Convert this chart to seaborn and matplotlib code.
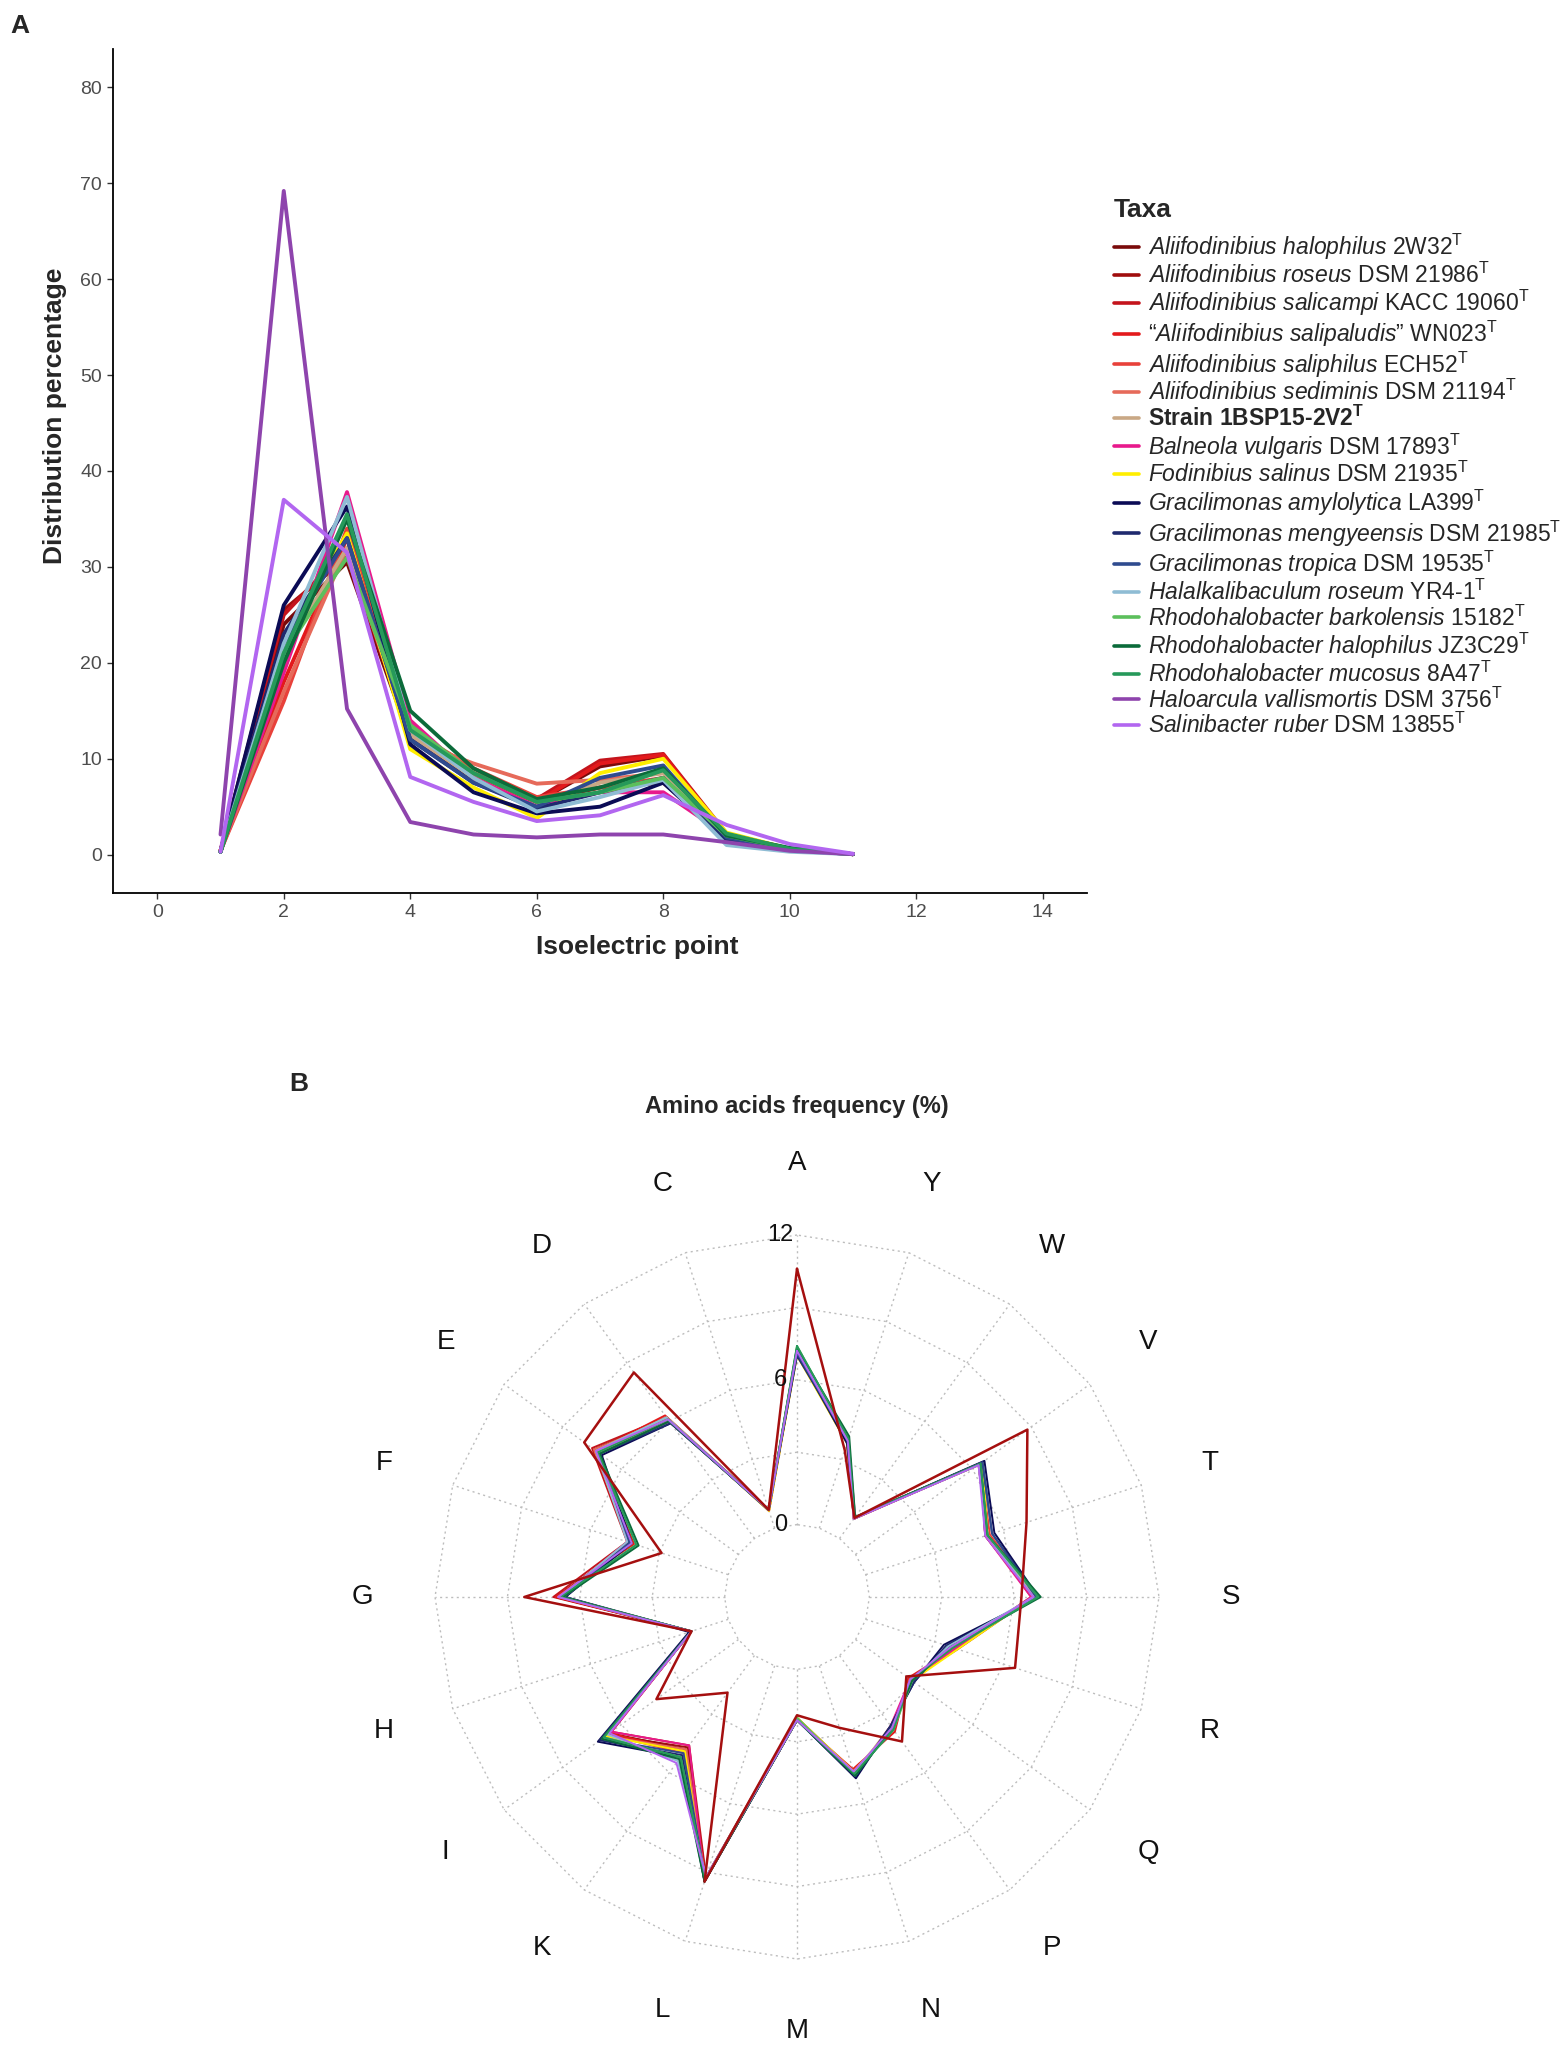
import numpy as np
import pandas as pd
import matplotlib
matplotlib.use("Agg")
import matplotlib.pyplot as plt
import seaborn as sns
from matplotlib.lines import Line2D

# ---------------- data ----------------
taxa = [
    "Aliifodinibius halophilus 2W32", "Aliifodinibius roseus DSM 21986",
    "Aliifodinibius salicampi KACC 19060", "Aliifodinibius salipaludis WN023",
    "Aliifodinibius saliphilus ECH52", "Aliifodinibius sediminis DSM 21194",
    "Strain 1BSP15-2V2", "Balneola vulgaris DSM 17893",
    "Fodinibius salinus DSM 21935", "Gracilimonas amylolytica LA399",
    "Gracilimonas mengyeensis DSM 21985", "Gracilimonas tropica DSM 19535",
    "Halalkalibaculum roseum YR4-1", "Rhodohalobacter barkolensis 15182",
    "Rhodohalobacter halophilus JZ3C29", "Rhodohalobacter mucosus 8A47",
    "Haloarcula vallismortis DSM 3756", "Salinibacter ruber DSM 13855",
]
legend_labels = [
    r"$\mathit{Aliifodinibius\ halophilus}$ 2W32$^{\mathrm{T}}$",
    r"$\mathit{Aliifodinibius\ roseus}$ DSM 21986$^{\mathrm{T}}$",
    r"$\mathit{Aliifodinibius\ salicampi}$ KACC 19060$^{\mathrm{T}}$",
    r"“$\mathit{Aliifodinibius\ salipaludis}$” WN023$^{\mathrm{T}}$",
    r"$\mathit{Aliifodinibius\ saliphilus}$ ECH52$^{\mathrm{T}}$",
    r"$\mathit{Aliifodinibius\ sediminis}$ DSM 21194$^{\mathrm{T}}$",
    r"Strain 1BSP15-2V2$^{\mathbf{T}}$",
    r"$\mathit{Balneola\ vulgaris}$ DSM 17893$^{\mathrm{T}}$",
    r"$\mathit{Fodinibius\ salinus}$ DSM 21935$^{\mathrm{T}}$",
    r"$\mathit{Gracilimonas\ amylolytica}$ LA399$^{\mathrm{T}}$",
    r"$\mathit{Gracilimonas\ mengyeensis}$ DSM 21985$^{\mathrm{T}}$",
    r"$\mathit{Gracilimonas\ tropica}$ DSM 19535$^{\mathrm{T}}$",
    r"$\mathit{Halalkalibaculum\ roseum}$ YR4-1$^{\mathrm{T}}$",
    r"$\mathit{Rhodohalobacter\ barkolensis}$ 15182$^{\mathrm{T}}$",
    r"$\mathit{Rhodohalobacter\ halophilus}$ JZ3C29$^{\mathrm{T}}$",
    r"$\mathit{Rhodohalobacter\ mucosus}$ 8A47$^{\mathrm{T}}$",
    r"$\mathit{Haloarcula\ vallismortis}$ DSM 3756$^{\mathrm{T}}$",
    r"$\mathit{Salinibacter\ ruber}$ DSM 13855$^{\mathrm{T}}$",
]
colors = [
    "#7a0a0a", "#a00d0d", "#c4141c", "#e31a1c", "#e8413a", "#e66a5a",
    "#c9a885", "#e8198c", "#ffee00", "#0b0b55", "#1f2a6e", "#2f4b8f",
    "#8fbcd4", "#5cbf5c", "#0b6b3a", "#26995a", "#8e44ad", "#b266f0",
]

# panel A: isoelectric point distribution (%)
pi_bins = [1, 2, 3, 4, 5, 6, 7, 8, 9, 10, 11]
pi_halophilus = [0.4, 24.0, 30.5, 12.0, 8.0, 5.5, 9.2, 10.3, 2.0, 0.6, 0.05]
pi_roseus = [0.4, 25.5, 31.0, 12.5, 8.0, 5.5, 7.0, 7.5, 2.0, 0.6, 0.05]
pi_salicampi = [0.4, 25.0, 32.0, 12.0, 8.5, 5.8, 9.8, 10.5, 2.2, 0.6, 0.05]
pi_salipaludis = [0.4, 18.0, 33.0, 12.5, 8.5, 5.5, 9.5, 10.4, 2.0, 0.6, 0.05]
pi_saliphilus = [0.4, 16.0, 34.0, 13.0, 9.0, 6.0, 7.0, 8.0, 1.8, 0.5, 0.05]
pi_sediminis = [0.4, 17.0, 32.0, 12.0, 9.5, 7.4, 7.8, 8.5, 1.8, 0.5, 0.05]
pi_strain = [0.3, 21.0, 32.0, 12.5, 8.0, 5.0, 7.5, 8.5, 2.0, 0.6, 0.05]
pi_balneola = [0.3, 19.0, 37.8, 14.0, 8.0, 5.0, 6.5, 6.5, 2.0, 0.6, 0.05]
pi_fodinibius = [0.3, 22.0, 33.5, 11.0, 7.0, 3.8, 8.5, 10.0, 2.3, 0.6, 0.05]
pi_amylolytica = [0.3, 26.0, 36.3, 11.5, 6.5, 4.3, 5.0, 7.5, 1.5, 0.5, 0.05]
pi_mengyeensis = [0.3, 23.0, 33.0, 12.0, 7.5, 4.8, 6.5, 8.0, 1.5, 0.5, 0.05]
pi_tropica = [0.3, 22.0, 33.0, 12.0, 7.5, 5.0, 8.0, 9.3, 1.8, 0.5, 0.05]
pi_halalkali = [0.3, 22.0, 37.3, 13.0, 8.0, 4.5, 6.0, 7.8, 1.0, 0.3, 0.05]
pi_barkolensis = [0.3, 21.0, 31.0, 13.5, 8.5, 5.5, 6.5, 8.0, 2.0, 0.6, 0.05]
pi_rhalophilus = [0.3, 20.0, 35.0, 15.0, 9.0, 5.8, 7.0, 9.0, 2.0, 0.7, 0.05]
pi_mucosus = [0.3, 21.0, 35.5, 13.0, 8.5, 5.5, 6.5, 8.8, 2.2, 0.6, 0.05]
pi_haloarcula = [2.1, 69.2, 15.2, 3.4, 2.1, 1.8, 2.1, 2.1, 1.3, 0.4, 0.05]
pi_salinibacter = [0.3, 37.0, 31.5, 8.1, 5.5, 3.5, 4.1, 6.2, 3.1, 1.1, 0.1]

pi_values = [
    pi_halophilus, pi_roseus, pi_salicampi, pi_salipaludis, pi_saliphilus,
    pi_sediminis, pi_strain, pi_balneola, pi_fodinibius, pi_amylolytica,
    pi_mengyeensis, pi_tropica, pi_halalkali, pi_barkolensis, pi_rhalophilus,
    pi_mucosus, pi_haloarcula, pi_salinibacter,
]

# panel B: amino acid frequency (%)
amino_acids = ["A", "C", "D", "E", "F", "G", "H", "I", "K", "L",
               "M", "N", "P", "Q", "R", "S", "T", "V", "W", "Y"]
aa_halophilus = [7.3, 0.8, 6.2, 7.4, 4.2, 7.0, 1.6, 6.6, 4.8, 9.2, 2.1, 4.6, 3.8, 2.8, 3.9, 6.8, 5.2, 6.4, 1.0, 3.8]
aa_roseus = [7.2, 0.8, 6.1, 7.3, 4.3, 6.9, 1.6, 6.7, 4.7, 9.3, 2.1, 4.7, 3.7, 2.9, 3.8, 6.9, 5.3, 6.3, 1.05, 3.8]
aa_salicampi = [7.1, 0.75, 6.2, 7.5, 4.4, 7.1, 1.6, 6.5, 4.6, 9.2, 2.0, 4.6, 3.8, 2.8, 4.0, 6.8, 5.2, 6.4, 1.0, 3.7]
aa_salipaludis = [7.3, 0.8, 6.3, 7.3, 4.1, 7.0, 1.6, 6.6, 4.9, 9.3, 2.1, 4.5, 3.9, 2.7, 3.9, 6.7, 5.3, 6.3, 1.05, 3.8]
aa_saliphilus = [7.0, 0.8, 6.0, 7.2, 4.2, 6.8, 1.6, 6.7, 5.0, 9.4, 2.1, 4.7, 3.7, 2.9, 3.8, 6.9, 5.4, 6.4, 1.05, 3.9]
aa_sediminis = [7.2, 0.75, 6.1, 7.4, 4.3, 6.9, 1.6, 6.8, 4.8, 9.3, 2.1, 4.6, 3.8, 2.8, 3.9, 6.8, 5.3, 6.5, 1.0, 3.8]
aa_strain = [7.1, 0.8, 6.2, 7.3, 4.3, 6.7, 1.6, 6.8, 5.3, 9.3, 2.1, 4.7, 3.6, 2.9, 3.6, 6.9, 5.3, 6.3, 1.05, 3.8]
aa_balneola = [7.2, 0.8, 6.0, 7.1, 4.4, 6.8, 1.6, 6.5, 4.6, 9.4, 2.1, 4.8, 3.6, 2.8, 3.9, 6.7, 5.2, 6.4, 1.1, 3.9]
aa_fodinibius = [7.0, 0.75, 6.1, 7.2, 4.2, 6.7, 1.6, 6.8, 4.9, 9.4, 2.0, 4.6, 3.7, 2.9, 4.0, 6.8, 5.3, 6.5, 1.05, 3.7]
aa_amylolytica = [7.1, 0.8, 5.9, 7.0, 4.2, 6.6, 1.7, 7.2, 5.2, 9.4, 2.1, 4.9, 3.6, 3.0, 3.4, 7.0, 5.6, 6.6, 1.05, 3.7]
aa_mengyeensis = [7.0, 0.8, 5.9, 7.1, 4.3, 6.6, 1.6, 7.1, 5.1, 9.4, 2.1, 4.8, 3.6, 3.0, 3.5, 7.0, 5.5, 6.5, 1.05, 3.8]
aa_tropica = [7.1, 0.8, 6.0, 7.1, 4.3, 6.7, 1.6, 7.0, 5.0, 9.3, 2.1, 4.8, 3.7, 2.9, 3.6, 6.9, 5.5, 6.5, 1.05, 3.8]
aa_halalkali = [7.3, 0.8, 6.2, 7.3, 4.4, 6.8, 1.6, 6.7, 5.4, 9.2, 2.1, 4.7, 3.7, 2.9, 3.6, 6.8, 5.3, 6.3, 1.1, 3.9]
aa_barkolensis = [7.4, 0.8, 6.1, 7.2, 4.0, 6.7, 1.6, 6.9, 5.2, 9.3, 2.0, 4.7, 3.8, 2.9, 3.7, 7.0, 5.3, 6.4, 1.05, 3.9]
aa_rhalophilus = [7.3, 0.8, 6.0, 7.1, 3.9, 6.7, 1.6, 7.0, 5.3, 9.4, 2.1, 4.8, 3.7, 2.9, 3.7, 7.1, 5.3, 6.4, 1.1, 4.0]
aa_mucosus = [7.4, 0.8, 6.1, 7.2, 4.0, 6.8, 1.6, 6.9, 5.2, 9.3, 2.1, 4.7, 3.8, 2.8, 3.8, 7.0, 5.3, 6.4, 1.05, 3.9]
aa_haloarcula = [10.6, 0.8, 8.5, 7.9, 2.9, 8.3, 1.6, 4.2, 1.9, 9.4, 1.9, 2.7, 4.4, 2.6, 6.5, 6.3, 7.0, 8.8, 1.05, 3.4]
aa_salinibacter = [7.2, 0.8, 6.1, 7.3, 4.2, 6.9, 1.6, 6.6, 5.5, 9.2, 2.1, 4.6, 3.7, 2.8, 3.7, 6.8, 5.2, 6.3, 1.0, 3.8]

aa_values = [
    aa_halophilus, aa_roseus, aa_salicampi, aa_salipaludis, aa_saliphilus,
    aa_sediminis, aa_strain, aa_balneola, aa_fodinibius, aa_amylolytica,
    aa_mengyeensis, aa_tropica, aa_halalkali, aa_barkolensis, aa_rhalophilus,
    aa_mucosus, aa_haloarcula, aa_salinibacter,
]
radar_colors = colors[:16] + ["#a50f0f", colors[17]]
radar_max = 12
radar_ticks = [0, 6, 12]

# ---------------- style ----------------
sns.set_theme(style="ticks")
plt.rcParams["font.family"] = ["Liberation Sans", "DejaVu Sans"]
plt.rcParams["mathtext.fontset"] = "custom"
plt.rcParams["mathtext.rm"] = "Liberation Sans"
plt.rcParams["mathtext.it"] = "Liberation Sans:italic"
plt.rcParams["mathtext.bf"] = "Liberation Sans:bold"

W, H = 1562, 2058
fig = plt.figure(figsize=(W / 100, H / 100), dpi=100)
fig.patch.set_facecolor("white")

# ---------------- panel A ----------------
rows = []
for name, vals in zip(taxa, pi_values):
    for x, v in zip(pi_bins, vals):
        rows.append({"taxon": name, "pI": x, "pct": v})
df_a = pd.DataFrame(rows)

ax_a = fig.add_axes([113 / W, 1 - 893 / H, 974 / W, 844 / H])
sns.lineplot(data=df_a, x="pI", y="pct", hue="taxon", hue_order=taxa,
             palette=dict(zip(taxa, colors)), linewidth=2.8,
             estimator=None, sort=False, legend=False, ax=ax_a)
ax_a.set_xlim(-0.7, 14.7)
ax_a.set_ylim(-4, 84)
ax_a.set_xticks(range(0, 15, 2))
ax_a.set_yticks(range(0, 81, 10))
for s in ["top", "right"]:
    ax_a.spines[s].set_visible(False)
for s in ["left", "bottom"]:
    ax_a.spines[s].set_color("black")
    ax_a.spines[s].set_linewidth(1.3)
ax_a.tick_params(length=4, width=1, color="#333333", labelsize=14,
                 labelcolor="#4d4d4d", pad=4)
ax_a.set_xlabel("Isoelectric point", fontsize=19, fontweight="bold")
ax_a.set_ylabel("Distribution percentage", fontsize=19, fontweight="bold")
ax_a.xaxis.set_label_coords(0.538, -0.05)
ax_a.yaxis.set_label_coords(-0.047, 0.565)

handles = [Line2D([0], [0], color=c, lw=2.6) for c in colors]
leg = fig.legend(handles, legend_labels, loc="upper left",
                 bbox_to_anchor=(1114 / W, 1 - 198 / H), frameon=False,
                 title="Taxa", fontsize=16.5, alignment="left",
                 title_fontproperties={"weight": "bold", "size": 19},
                 handlelength=1.1, handletextpad=0.4, labelspacing=0.02,
                 borderaxespad=0, borderpad=0)
leg._legend_box.sep = 7
leg.get_texts()[6].set_fontweight("bold")

fig.text(20 / W, 1 - 26 / H, "A", fontsize=19, fontweight="bold",
         ha="center", va="center")

# ---------------- panel B (radar) ----------------
cx, cy, R = 797, 1597, 362
ax_b = fig.add_axes([(cx - 1.4 * R) / W, (H - cy - 1.25 * R) / H,
                     2.8 * R / W, 2.65 * R / H])
ax_b.set_xlim(-1.4, 1.4)
ax_b.set_ylim(-1.25, 1.4)
ax_b.axis("off")

n = len(amino_acids)
angles = np.deg2rad(90 + 360 / n * np.arange(n))
cos_a, sin_a = np.cos(angles), np.sin(angles)

# grid rings and spokes
for k in range(5):
    r = (k + 1) / 5
    ax_b.plot(np.append(r * cos_a, r * cos_a[0]), np.append(r * sin_a, r * sin_a[0]),
              color="#bdbdbd", lw=1.0, ls=(0, (1.5, 2.5)))
for c, s in zip(cos_a, sin_a):
    ax_b.plot([0.2 * c, c], [0.2 * s, s], color="#bdbdbd", lw=1.0, ls=(0, (1.5, 2.5)))

order = [i for i in range(len(taxa)) if i != 16] + [16]
for i in order:
    r = 0.2 + 0.8 * np.array(aa_values[i]) / radar_max
    xs = np.append(r * cos_a, r[0] * cos_a[0])
    ys = np.append(r * sin_a, r[0] * sin_a[0])
    ax_b.plot(xs, ys, color=radar_colors[i], lw=1.8 if i == 16 else 1.4)

for lab, c, s in zip(amino_acids, cos_a, sin_a):
    ax_b.text(1.2 * c, 1.2 * s, lab, fontsize=20, ha="center", va="center",
              color="#111111")
for t in radar_ticks:
    ax_b.text(-0.045, 0.2 + 0.8 * t / radar_max, str(t), fontsize=17,
              ha="center", va="center", color="#111111")

ax_b.text(0, 1.355, "Amino acids frequency (%)", fontsize=17,
          fontweight="bold", ha="center", va="center")
fig.text(299 / W, 1 - 1084 / H, "B", fontsize=19, fontweight="bold",
         ha="center", va="center")

fig.savefig("out.png", dpi=100, facecolor="white")
